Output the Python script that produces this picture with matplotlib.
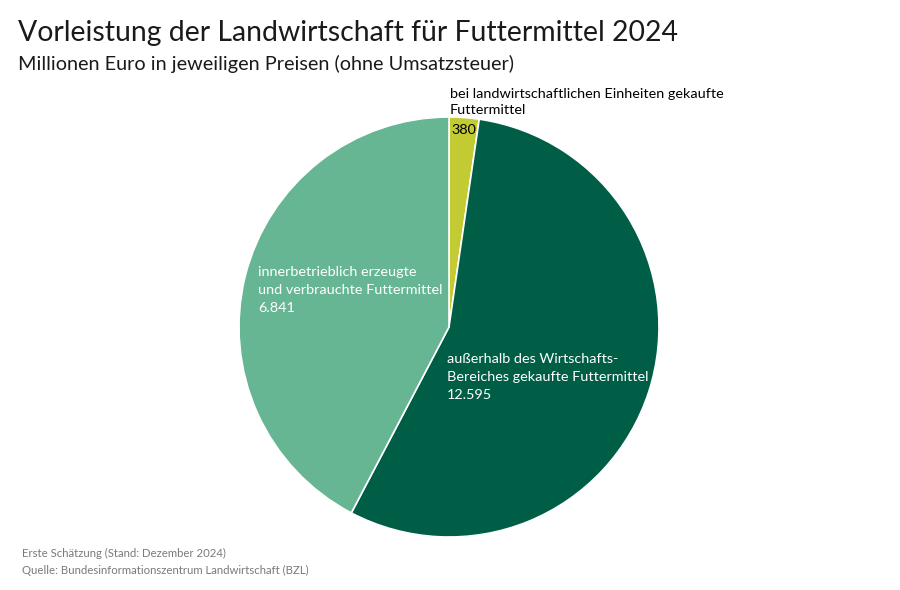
import matplotlib.pyplot as plt

plt.rcParams['font.family'] = ['Lato', 'DejaVu Sans']

# Daten (Mio. Euro) - Beschriftungen
labels = ["bei landwirtschaftlichen Einheiten gekaufte\nFuttermittel",
          "außerhalb des Wirtschafts-\nBereiches gekaufte Futtermittel",
          "innerbetrieblich erzeugte\nund verbrauchte Futtermittel"]
value_text = ["380", "12.595", "6.841"]
shares = [2.3, 55.4, 42.3]
colors = ["#c3cb32", "#005e47", "#66b693"]

W, H = 900, 590
fig = plt.figure(figsize=(9, 5.9), dpi=100)

# Pie-Achse: Mittelpunkt (449, 327) px, Radius 210 px
cx, cy, r = 449, 327, 210
ax = fig.add_axes([(cx - r) / W, (H - cy - r) / H, 2 * r / W, 2 * r / H])
ax.pie(shares, colors=colors, startangle=90, counterclock=False,
       wedgeprops=dict(edgecolor="white", linewidth=1.2), radius=1)
ax.set_xlim(-1, 1)
ax.set_ylim(-1, 1)
ax.set_aspect("equal")
ax.axis("off")


def px(x, y):
    return x / W, 1 - y / H


fig.text(*px(18, 33), "Vorleistung der Landwirtschaft für Futtermittel 2024",
         fontsize=20.4, va="center", ha="left", color="#1a1a1a")
fig.text(*px(18, 64), "Millionen Euro in jeweiligen Preisen (ohne Umsatzsteuer)",
         fontsize=14.3, va="center", ha="left", color="#1a1a1a")

# Beschriftungen
fig.text(*px(450, 102), labels[0], fontsize=10.4, va="center", ha="left",
         color="black", linespacing=1.4)
fig.text(*px(451, 130), value_text[0], fontsize=10.4, va="center", ha="left",
         color="black")

fig.text(*px(447, 377), labels[1] + "\n" + value_text[1], fontsize=10.4,
         va="center", ha="left", color="white", linespacing=1.6)
fig.text(*px(258, 290), labels[2] + "\n" + value_text[2], fontsize=10.4,
         va="center", ha="left", color="white", linespacing=1.6)

fig.text(*px(22, 553), "Erste Schätzung (Stand: Dezember 2024)", fontsize=8.2,
         va="center", ha="left", color="#7a7a7a")
fig.text(*px(22, 570), "Quelle: Bundesinformationszentrum Landwirtschaft (BZL)",
         fontsize=8.2, va="center", ha="left", color="#7a7a7a")

fig.savefig("out.png", dpi=100, facecolor="white")
